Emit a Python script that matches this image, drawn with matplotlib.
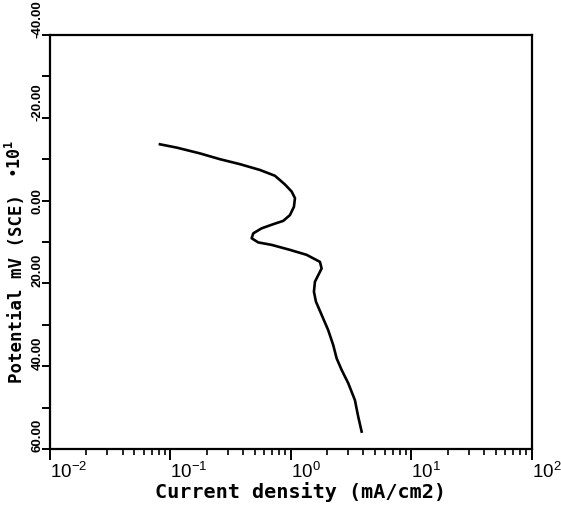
import numpy as np
import matplotlib
matplotlib.use("Agg")
import matplotlib.pyplot as plt
from matplotlib.ticker import LogLocator, FixedLocator, NullFormatter

plt.rcParams['mathtext.default'] = 'regular'
tick_font = ['Liberation Sans', 'DejaVu Sans']

# polarisation curve
current = [0.0818, 0.1126, 0.1757, 0.2575, 0.3774, 0.553, 0.7365, 0.8917, 1.013, 1.080,
           1.059, 0.981, 0.863, 0.713, 0.571, 0.487, 0.472, 0.535, 0.692, 0.981,
           1.350, 1.741, 1.798, 1.686, 1.582, 1.552, 1.612, 1.798, 2.039, 2.244,
           2.395, 2.635, 2.989, 3.397, 3.618, 3.862]
potential = [-13.6, -12.8, -11.4, -10.0, -8.8, -7.4, -6.0, -3.9, -2.2, -0.6,
             1.5, 3.5, 4.9, 5.7, 6.7, 7.9, 9.1, 10.1, 10.7, 11.9,
             13.1, 14.8, 16.4, 18.0, 19.6, 22.0, 24.4, 27.6, 31.3, 34.9,
             38.1, 40.9, 44.1, 48.2, 52.2, 55.8]

y_ticks = [-40, -20, 0, 20, 40, 60]
y_labels = ["-40.00", "-20.00", "0.00", "20.00", "40.00", "60.00"]
x_decades = [-2, -1, 0, 1, 2]

fig = plt.figure(figsize=(5.61, 5.05), dpi=100)
ax = fig.add_axes([0.0891, 0.1109, 0.859, 0.8198])

ax.plot(current, potential, color="black", lw=1.9, solid_joinstyle="round")

ax.set_xscale("log")
ax.set_xlim(1e-2, 1e2)
ax.set_ylim(60, -40)

for s in ax.spines.values():
    s.set_linewidth(1.6)

ax.xaxis.set_major_locator(FixedLocator([10.0 ** d for d in x_decades]))
ax.xaxis.set_minor_locator(LogLocator(base=10, subs=np.arange(2, 10)))
ax.xaxis.set_minor_formatter(NullFormatter())
ax.set_xticklabels(["$10^{%d}$" % d for d in x_decades], fontsize=13.5, ha="left",
                   family=tick_font)
ax.tick_params(axis="x", which="major", direction="out", length=8, width=1.4, pad=1)
ax.tick_params(axis="x", which="minor", direction="out", length=4, width=1.2)

# y labels are drawn by hand: rotated and starting just below each tick
ax.yaxis.set_major_locator(FixedLocator(y_ticks))
ax.yaxis.set_minor_locator(FixedLocator([-30, -10, 10, 30, 50]))
ax.set_yticklabels([])
ax.tick_params(axis="y", which="both", direction="out", length=6, width=1.4)
for v, lab in zip(y_ticks, y_labels):
    centred = lab == "0.00"
    ax.annotate(lab, xy=(0, v), xycoords=("axes fraction", "data"),
                xytext=(-4.5, 0 if centred else -2.5), textcoords="offset points",
                rotation=90, ha="right", va="center" if centred else "bottom",
                fontsize=9.5, family=tick_font, fontweight="bold",
                annotation_clip=False)

fig.text(0.535, 0.014, "Current density (mA/cm2)", ha="center", va="baseline",
         fontsize=14.5, family="DejaVu Sans Mono", fontweight="bold")
fig.text(0.03, 0.428, "Potential mV (SCE)", rotation=90, ha="center", va="center",
         fontsize=12.5, family="DejaVu Sans Mono", fontweight="bold")
fig.text(0.026, 0.685, "•10$^{1}$", rotation=90, ha="center", va="center",
         fontsize=12, family="DejaVu Sans Mono", fontweight="bold")

fig.savefig("out.png", dpi=100)
